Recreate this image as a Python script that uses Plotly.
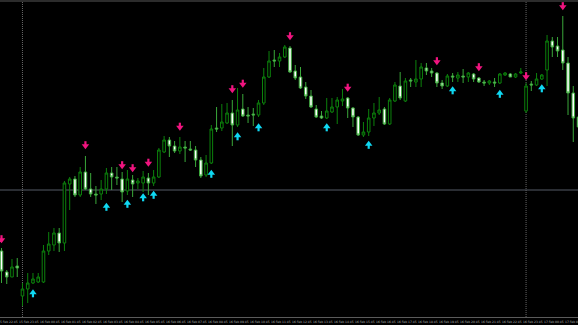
import plotly.graph_objects as go

# ---------------- data (M15 candles) ----------------
open_ = [1.1069, 1.1048, 1.1043, 1.1054, 1.1024, 1.1031, 1.1037, 1.1038, 1.1038, 1.1069,
         1.1075, 1.1087, 1.1077, 1.1136, 1.1141, 1.1125, 1.1148, 1.1131, 1.1126, 1.1126,
         1.1131, 1.1147, 1.1143, 1.1141, 1.1129, 1.1140, 1.1137, 1.1137, 1.1142, 1.1137,
         1.1143, 1.1168, 1.1180, 1.1174, 1.1169, 1.1173, 1.1171, 1.1170, 1.1160, 1.1145,
         1.1157, 1.1192, 1.1192, 1.1197, 1.1207, 1.1195, 1.1211, 1.1205, 1.1206, 1.1205,
         1.1217, 1.1243, 1.1260, 1.1259, 1.1263, 1.1272, 1.1249, 1.1243, 1.1233, 1.1224,
         1.1211, 1.1204, 1.1202, 1.1208, 1.1213, 1.1219, 1.1222, 1.1212, 1.1203, 1.1185,
         1.1188, 1.1202, 1.1207, 1.1211, 1.1196, 1.1219, 1.1234, 1.1219, 1.1240, 1.1238,
         1.1241, 1.1252, 1.1249, 1.1247, 1.1237, 1.1234, 1.1244, 1.1242, 1.1244, 1.1243,
         1.1246, 1.1242, 1.1238, 1.1237, 1.1238, 1.1237, 1.1245, 1.1246, 1.1243, 1.1247,
         1.1209, 1.1236, 1.1235, 1.1241, 1.1250, 1.1279, 1.1274, 1.1270, 1.1257, 1.1227,
         1.1203]
high = [1.1072, 1.1050, 1.1061, 1.1062, 1.1037, 1.1047, 1.1047, 1.1047, 1.1075, 1.1088,
        1.1092, 1.1092, 1.1139, 1.1143, 1.1144, 1.1153, 1.1164, 1.1147, 1.1134, 1.1140,
        1.1152, 1.1153, 1.1153, 1.1148, 1.1150, 1.1145, 1.1142, 1.1149, 1.1147, 1.1150,
        1.1172, 1.1184, 1.1183, 1.1179, 1.1183, 1.1179, 1.1179, 1.1174, 1.1163, 1.1165,
        1.1195, 1.1213, 1.1216, 1.1217, 1.1220, 1.1232, 1.1226, 1.1213, 1.1212, 1.1220,
        1.1252, 1.1269, 1.1270, 1.1267, 1.1275, 1.1274, 1.1255, 1.1253, 1.1238, 1.1230,
        1.1215, 1.1209, 1.1222, 1.1222, 1.1223, 1.1231, 1.1223, 1.1213, 1.1204, 1.1198,
        1.1211, 1.1217, 1.1223, 1.1213, 1.1222, 1.1238, 1.1248, 1.1242, 1.1242, 1.1260,
        1.1257, 1.1257, 1.1252, 1.1248, 1.1240, 1.1246, 1.1247, 1.1248, 1.1251, 1.1248,
        1.1247, 1.1243, 1.1240, 1.1240, 1.1242, 1.1247, 1.1248, 1.1247, 1.1247, 1.1252,
        1.1237, 1.1239, 1.1247, 1.1246, 1.1285, 1.1283, 1.1283, 1.1304, 1.1263, 1.1234,
        1.1205]
low = [1.1037, 1.1036, 1.1043, 1.1043, 1.1014, 1.1017, 1.1036, 1.1037, 1.1037, 1.1065,
       1.1069, 1.1068, 1.1069, 1.1110, 1.1123, 1.1123, 1.1130, 1.1123, 1.1116, 1.1120,
       1.1126, 1.1130, 1.1135, 1.1118, 1.1125, 1.1123, 1.1131, 1.1128, 1.1125, 1.1134,
       1.1142, 1.1167, 1.1163, 1.1167, 1.1166, 1.1158, 1.1169, 1.1153, 1.1142, 1.1143,
       1.1156, 1.1188, 1.1189, 1.1196, 1.1174, 1.1193, 1.1203, 1.1197, 1.1194, 1.1203,
       1.1215, 1.1242, 1.1253, 1.1253, 1.1262, 1.1247, 1.1240, 1.1231, 1.1221, 1.1212,
       1.1202, 1.1201, 1.1201, 1.1207, 1.1196, 1.1214, 1.1202, 1.1193, 1.1184, 1.1183,
       1.1184, 1.1194, 1.1205, 1.1195, 1.1195, 1.1218, 1.1220, 1.1218, 1.1233, 1.1233,
       1.1233, 1.1245, 1.1243, 1.1233, 1.1231, 1.1233, 1.1238, 1.1238, 1.1237, 1.1238,
       1.1238, 1.1237, 1.1234, 1.1235, 1.1233, 1.1236, 1.1244, 1.1243, 1.1242, 1.1246,
       1.1207, 1.1229, 1.1234, 1.1240, 1.1234, 1.1263, 1.1263, 1.1250, 1.1205, 1.1178,
       1.1190]
close = [1.1049, 1.1043, 1.1053, 1.1052, 1.1031, 1.1037, 1.1041, 1.1043, 1.1069, 1.1076,
         1.1087, 1.1077, 1.1137, 1.1141, 1.1125, 1.1148, 1.1131, 1.1126, 1.1125, 1.1131,
         1.1147, 1.1143, 1.1142, 1.1128, 1.1141, 1.1136, 1.1139, 1.1143, 1.1137, 1.1143,
         1.1170, 1.1180, 1.1174, 1.1169, 1.1173, 1.1172, 1.1170, 1.1160, 1.1144, 1.1157,
         1.1191, 1.1191, 1.1198, 1.1207, 1.1195, 1.1210, 1.1204, 1.1204, 1.1205, 1.1217,
         1.1243, 1.1259, 1.1259, 1.1263, 1.1273, 1.1248, 1.1242, 1.1232, 1.1224, 1.1213,
         1.1203, 1.1202, 1.1209, 1.1213, 1.1220, 1.1221, 1.1212, 1.1203, 1.1185, 1.1188,
         1.1202, 1.1207, 1.1210, 1.1196, 1.1220, 1.1235, 1.1222, 1.1239, 1.1239, 1.1241,
         1.1253, 1.1249, 1.1247, 1.1237, 1.1234, 1.1244, 1.1243, 1.1245, 1.1243, 1.1247,
         1.1241, 1.1238, 1.1237, 1.1239, 1.1237, 1.1246, 1.1247, 1.1243, 1.1246, 1.1248,
         1.1234, 1.1235, 1.1241, 1.1245, 1.1279, 1.1273, 1.1269, 1.1257, 1.1227, 1.1202,
         1.1193]

# signal arrows (indicator buffers)
sell_idx = [0, 16, 23, 25, 28, 34, 44, 46, 55, 66, 83, 91, 100, 107]
sell_price = [1.10805, 1.11745, 1.11545, 1.11515, 1.1157, 1.1193, 1.12305, 1.1236,
              1.12835, 1.1232, 1.12585, 1.12525, 1.12435, 1.13135]
buy_idx = [6, 20, 24, 27, 29, 40, 45, 49, 62, 70, 86, 95, 103]
buy_price = [1.1027, 1.11135, 1.11165, 1.1123, 1.11255, 1.11465, 1.1184, 1.1193,
             1.1193, 1.11755, 1.123, 1.12265, 1.1232]

hline_price = 1.1130
separator_idx = [4, 100]

tick_idx = [-1, 3, 7, 11, 15, 19, 23, 27, 31, 35, 39, 43, 47, 51, 55, 59, 63, 67, 71,
            75, 79, 83, 87, 91, 95, 99, 103, 107]
tick_text = ["15 Feb 22:45", "15 Feb 23:45", "16 Feb 00:45", "16 Feb 01:45", "16 Feb 02:45",
             "16 Feb 03:45", "16 Feb 04:45", "16 Feb 05:45", "16 Feb 06:45", "16 Feb 07:45",
             "16 Feb 08:45", "16 Feb 09:45", "16 Feb 10:45", "16 Feb 11:45", "16 Feb 12:45",
             "16 Feb 13:45", "16 Feb 14:45", "16 Feb 15:45", "16 Feb 16:45", "16 Feb 17:45",
             "16 Feb 18:45", "16 Feb 19:45", "16 Feb 20:45", "16 Feb 21:45", "16 Feb 22:45",
             "16 Feb 23:45", "17 Feb 00:45", "17 Feb 01:45"]

# ---------------- layout constants ----------------
W, H = 578, 325
MB = 8
PLOT_H = H - MB
Y0, Y1 = 1.1003, 1.1320
X0, X1 = -0.286, 109.9
PX = (Y1 - Y0) / PLOT_H

GREEN = "#0c820c"
PINK = "#f0147f"
CYAN = "#0fd8f2"

idx = list(range(len(open_)))

fig = go.Figure()
fig.add_trace(go.Candlestick(
    x=idx, open=open_, high=high, low=low, close=close,
    increasing=dict(line=dict(color=GREEN, width=1), fillcolor="black"),
    decreasing=dict(line=dict(color="#3aa83a", width=1), fillcolor="white"),
    whiskerwidth=0, hoverinfo="skip", showlegend=False))

# sell arrows (down): stem + head
fig.add_trace(go.Scatter(
    x=sell_idx, y=[p + 1.5 * PX for p in sell_price], mode="markers",
    marker=dict(symbol="line-ns", size=4, line=dict(color=PINK, width=2.2)),
    hoverinfo="skip", showlegend=False))
fig.add_trace(go.Scatter(
    x=sell_idx, y=[p - 0.5 * PX for p in sell_price], mode="markers",
    marker=dict(symbol="triangle-down", size=6.5, color=PINK, line=dict(width=0)),
    hoverinfo="skip", showlegend=False))
# buy arrows (up)
fig.add_trace(go.Scatter(
    x=buy_idx, y=[p - 1.5 * PX for p in buy_price], mode="markers",
    marker=dict(symbol="line-ns", size=4, line=dict(color=CYAN, width=2.2)),
    hoverinfo="skip", showlegend=False))
fig.add_trace(go.Scatter(
    x=buy_idx, y=[p + 0.5 * PX for p in buy_price], mode="markers",
    marker=dict(symbol="triangle-up", size=6.5, color=CYAN, line=dict(width=0)),
    hoverinfo="skip", showlegend=False))

shapes = [
    dict(type="line", xref="paper", x0=0, x1=1, yref="y", y0=hline_price, y1=hline_price,
         line=dict(color="#555a66", width=1), layer="below"),
    dict(type="rect", xref="paper", x0=0, x1=1, yref="paper", y0=1 - 2 / PLOT_H, y1=1,
         fillcolor="#2c2c2c", line=dict(width=0)),
]
for s in separator_idx:
    shapes.append(dict(type="line", xref="x", x0=s, x1=s, yref="paper", y0=0, y1=1,
                       line=dict(color="#666666", width=1, dash="1px,1px"), layer="below"))

annotations = []
for t, txt in zip(tick_idx, tick_text):
    annotations.append(dict(
        x=(t - X0) / (X1 - X0), xref="paper", y=0, yref="paper",
        xanchor="left", yanchor="top", yshift=-1, xshift=0,
        text=txt, showarrow=False,
        font=dict(family="DejaVu Sans", size=3, color="#b4b4b4")))

fig.update_layout(
    width=W, height=H,
    margin=dict(l=0, r=0, t=0, b=MB),
    paper_bgcolor="black", plot_bgcolor="black",
    showlegend=False, hovermode=False,
    shapes=shapes, annotations=annotations,
    xaxis=dict(range=[X0, X1], showgrid=False, zeroline=False, showticklabels=False,
               rangeslider=dict(visible=False), showline=True, linecolor="#5a5a5a",
               linewidth=1, ticks=""),
    yaxis=dict(range=[Y0, Y1], showgrid=False, zeroline=False, showticklabels=False,
               ticks=""),
)

fig.write_html("out.html")
